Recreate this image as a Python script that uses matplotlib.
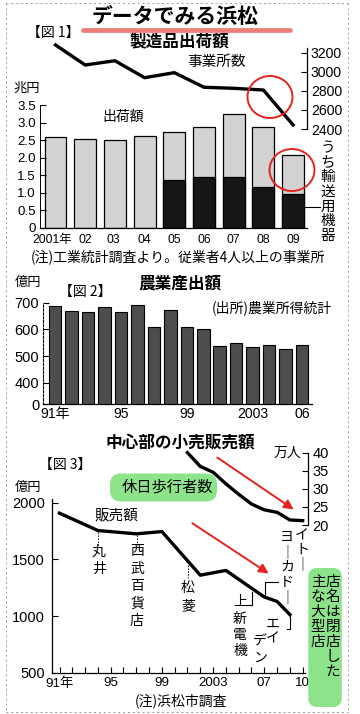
import numpy as np
import matplotlib.pyplot as plt
from matplotlib import font_manager
from matplotlib.lines import Line2D
from matplotlib.patches import Ellipse, FancyBboxPatch, FancyArrowPatch
from matplotlib.transforms import Affine2D, ScaledTranslation

JP = ['Noto Sans CJK JP', 'DejaVu Sans']
plt.rcParams['font.family'] = JP
plt.rcParams['axes.linewidth'] = 0.9

# numbers in the original are set in a narrow sans face
installed = {f.name for f in font_manager.fontManager.ttflist}
if 'Liberation Sans Narrow' in installed:
    NUM = ['Liberation Sans Narrow', 'Noto Sans CJK JP', 'DejaVu Sans']
    NS = 1.0
else:
    NUM = ['Liberation Sans', 'Noto Sans CJK JP', 'DejaVu Sans']
    NS = 0.84

# ---- 図1 製造品出荷額 ----
years1 = ['2001年', '02', '03', '04', '05', '06', '07', '08', '09']
shipments = [2.60, 2.54, 2.51, 2.63, 2.74, 2.86, 3.23, 2.87, 2.09]   # 兆円
transport = [1.38, 1.44, 1.45, 1.16, 0.96]                           # うち輸送用機器 05-09
offices = [3281, 3071, 3116, 2938, 2991, 2838, 2827, 2809, 2443]     # 事業所数
y1_ticks = [0, 0.5, 1.0, 1.5, 2.0, 2.5, 3.0, 3.5]
y1_labels = ['0', '0.5', '1.0', '1.5', '2.0', '2.5', '3.0', '3.5']
y1r_ticks = [2400, 2600, 2800, 3000, 3200]

# ---- 図2 農業産出額 ----
years2 = list(range(1991, 2007))
farm = [687, 669, 664, 682, 664, 691, 609, 672, 607, 600, 537, 547, 532, 540, 526, 540]  # 億円
x2_tick_years = [1991, 1995, 1999, 2003, 2006]
x2_labels = ['91年', '95', '99', '2003', '06']
y2_ticks = [400, 500, 600, 700]
y2_labels = ['400', '500', '600', '700']
y2_floor = 320   # axis is broken below 400, bottom labelled "0"

# ---- 図3 中心部の小売販売額 ----
sales_years = [1991, 1994, 1997, 1999, 2002, 2004, 2007, 2008, 2009]
sales = [1907, 1754, 1725, 1745, 1361, 1403, 1169, 1130, 1014]       # 億円
walk_years = list(range(2001, 2011))
walkers = [40.0, 36.2, 34.6, 31.4, 28.5, 25.8, 24.2, 23.5, 21.4, 21.2]  # 万人
x3_labels = {1991: '91年', 1995: '95', 1999: '99', 2003: '2003', 2007: '07', 2010: '10'}
y3_ticks = [500, 1000, 1500, 2000]
y3r_ticks = [20, 25, 30, 35, 40]

W, H = 360, 714
RED = '#e3231e'
GREEN = '#8de38a'

fig = plt.figure(figsize=(W / 100, H / 100), dpi=100)
# pixel coords, y downwards
pix = Affine2D().scale(0.01, -0.01).translate(0, H * 0.01) + fig.dpi_scale_trans


def px_axes(left, top, right, bottom):
    return fig.add_axes([left / W, 1 - bottom / H, (right - left) / W, (bottom - top) / H])


def txt(x, y, s, size=10, weight='normal', ha='center', family=JP):
    fig.text(x, y, s, transform=pix, fontsize=size, fontweight=weight,
             ha=ha, va='center', family=family)


def vtxt(x, y0, s, step, size=10):
    for i, ch in enumerate(s):
        fig.text(x, y0 + i * step, ch, transform=pix, fontsize=size,
                 ha='center', va='center', family=JP)


def seg(xs, ys, **kw):
    fig.add_artist(Line2D(xs, ys, transform=pix, **kw))


def shift(label, dx):
    label.set_transform(label.get_transform() + ScaledTranslation(dx / 100, 0, fig.dpi_scale_trans))


# scan frame
for xs, ys in [([6, 6], [3, 712]), ([348, 348], [3, 712]),
               ([6, 348], [3, 3]), ([6, 348], [712, 712])]:
    seg(xs, ys, color='#9a9a9a', lw=0.7, ls=(0, (2, 3)))

# ===== 図1 =====
x1 = np.arange(len(years1))
ax1 = px_axes(40, 40, 306.7, 228)
ax1.bar(x1, shipments, width=0.74, color='#d3d3d3', edgecolor='black', lw=0.9)
ax1.bar(x1[4:], transport, width=0.74, color='#161616', edgecolor='black', lw=0.9)
ax1.set_xlim(-0.522, 8.458)
ax1.set_ylim(0, 5.35)
ax1.set_yticks(y1_ticks)
ax1.set_yticklabels(y1_labels, fontsize=11.5 * NS, family=NUM)
ax1.set_xticks(x1)
ax1.set_xticklabels(years1, fontsize=10.5 * NS, family=NUM)
ax1.tick_params(axis='x', length=0, pad=4)
ax1.tick_params(axis='y', direction='in', length=4, pad=3)
for lab, dx in zip(ax1.get_xticklabels()[:3], [-3, 0, -2]):
    shift(lab, dx)
for s in ['top', 'right']:
    ax1.spines[s].set_visible(False)
ax1.spines['left'].set_bounds(0, 3.5)
ax1.spines['left'].set_linewidth(0.7)

ax1r = ax1.twinx()
ax1r.plot(x1, offices, color='black', lw=2.4, solid_joinstyle='round')
ax1r.set_ylim(1364, 3333)
ax1r.set_yticks(y1r_ticks)
ax1r.set_yticklabels([str(v) for v in y1r_ticks], fontsize=12 * NS, family=NUM)
ax1r.tick_params(axis='y', direction='in', length=4, pad=3)
for s in ['top', 'left', 'bottom']:
    ax1r.spines[s].set_visible(False)
ax1r.spines['right'].set_bounds(2400, 3250)

seg([83, 290], [30, 30], color='#f07c78', lw=3.4, solid_capstyle='round')
txt(175, 16, 'データでみる浜松', size=15, weight='bold')
txt(53, 33, '【図 1】', size=10)
txt(179, 42, '製造品出荷額', size=12, weight='bold')
txt(216, 62, '事業所数', size=10.5)
txt(27, 88, '兆円', size=9.5)
txt(123, 117, '出荷額', size=10)
vtxt(328, 148, 'うち輸送用機器', 14.6, size=10.5)
seg([305, 320], [207, 207], color='black', lw=0.8)
txt(178, 257, '(注)工業統計調査より。従業者4人以上の事業所', size=10)
for cx, cy in [(270, 97), (292, 170)]:
    fig.add_artist(Ellipse((cx, cy), 45, 42, transform=pix, fill=False,
                           ec=RED, lw=1.4))

# ===== 図2 =====
ax2 = px_axes(43.3, 290, 312, 404)
ax2.bar(years2, farm, width=0.76, color='#4d4d4d', edgecolor='black', lw=0.8)
ax2.set_xlim(years2[0] - 0.71, years2[0] + 15.6)
ax2.set_ylim(y2_floor, 747.6)
ax2.set_yticks([y2_floor] + y2_ticks)
ax2.set_yticklabels(['0'] + y2_labels, fontsize=12.5 * NS, family=NUM)
ax2.set_xticks(x2_tick_years)
ax2.set_xticklabels(x2_labels, fontsize=12 * NS, family=NUM)
ax2.tick_params(axis='x', length=0, pad=2)
ax2.tick_params(axis='y', direction='in', length=4, pad=3)
for s in ['top', 'right']:
    ax2.spines[s].set_visible(False)
ax2.spines['left'].set_linestyle((0, (2, 1.5)))
ax2.spines['left'].set_linewidth(0.8)
ax2.spines['left'].set_bounds(y2_floor, 700)

txt(28, 282, '億円', size=9.5)
txt(85, 292, '【図 2】', size=10)
txt(180, 284, '農業産出額', size=12, weight='bold')
txt(272, 308, '(出所)農業所得統計', size=10)

# ===== 図3 =====
ax3 = px_axes(51.7, 445, 308.3, 673)
ax3.plot(sales_years, sales, color='black', lw=2.4, solid_joinstyle='round')
ax3.set_xlim(1990.39, 2010.44)
ax3.set_ylim(500, 2507)
ax3.set_yticks(y3_ticks)
ax3.set_yticklabels([str(v) for v in y3_ticks], fontsize=12.5 * NS, family=NUM)
ax3.set_xticks(range(1991, 2011))
ax3.set_xticklabels([x3_labels.get(y, '') for y in range(1991, 2011)],
                    fontsize=11.5 * NS, family=NUM)
ax3.tick_params(axis='x', direction='in', length=4, pad=3)
ax3.tick_params(axis='y', direction='in', length=4, pad=5)
for s in ['top', 'right']:
    ax3.spines[s].set_visible(False)
ax3.spines['left'].set_bounds(500, 2030)
ax3.spines['bottom'].set_bounds(1990.39, 2010.2)

ax3r = ax3.twinx()
ax3r.plot(walk_years, walkers, color='black', lw=2.4, solid_joinstyle='round')
ax3r.set_ylim(-20.94, 42.13)
ax3r.set_yticks(y3r_ticks)
ax3r.set_yticklabels([str(v) for v in y3r_ticks], fontsize=12.5 * NS, family=NUM)
ax3r.tick_params(axis='y', direction='in', length=4, pad=3)
for s in ['top', 'left', 'bottom']:
    ax3r.spines[s].set_visible(False)
ax3r.spines['right'].set_bounds(20, 40)

txt(180, 443, '中心部の小売販売額', size=12, weight='bold')
txt(65, 465, '【図 3】', size=10)
txt(28, 487, '億円', size=9.5)
fig.add_artist(FancyBboxPatch((110, 473.5), 107, 28, transform=pix,
                              boxstyle='round,pad=0,rounding_size=11',
                              fc=GREEN, ec='none'))
txt(167, 487, '休日歩行者数', size=11)
txt(287, 453, '万人', size=10)
txt(116, 515, '販売額', size=10.5)

# closed stores
vtxt(99, 552, '丸井', 17, size=10)
seg([98.3, 98.3], [532, 545], color='black', lw=0.6, ls=(0, (2, 1.5)))
vtxt(137, 551, '西武百貨店', 17.5, size=10)
seg([136.7, 136.7], [535, 545], color='black', lw=0.6, ls=(0, (2, 1.5)))
vtxt(188, 588, '松菱', 18, size=10)
seg([188.3, 188.3], [565, 578], color='black', lw=0.6, ls=(0, (2, 1.5)))
vtxt(240, 602, '上新電機', 16.5, size=10)
seg([246, 251.7, 251.7], [605, 605, 591.7], color='black', lw=0.8)
vtxt(302, 536, 'イト｜', 14, size=10)
vtxt(287, 537, 'ヨ｜カド｜', 15, size=10)
seg([278.3, 265, 265], [581.7, 581.7, 595], color='black', lw=0.8)
vtxt(273, 624, 'エイ', 15, size=10)
vtxt(260, 642, 'デン', 16, size=10)
seg([286.7, 290, 290], [629.3, 629.3, 615], color='black', lw=0.8)

for p0, p1 in [((215, 456), (296, 511)), ((190, 521.7), (271, 575))]:
    fig.add_artist(FancyArrowPatch(p0, p1, transform=pix, arrowstyle='-|>',
                                   mutation_scale=14, color=RED, lw=1.4))

fig.add_artist(FancyBboxPatch((308.3, 568), 33.5, 139, transform=pix,
                              boxstyle='round,pad=0,rounding_size=9',
                              fc=GREEN, ec='none'))
vtxt(333, 582, '店名は閉店した', 15, size=10.5)
vtxt(318, 582, '主な大型店', 15, size=10.5)
txt(181, 701, '(注)浜松市調査', size=10)

fig.savefig('out.png', dpi=100)
